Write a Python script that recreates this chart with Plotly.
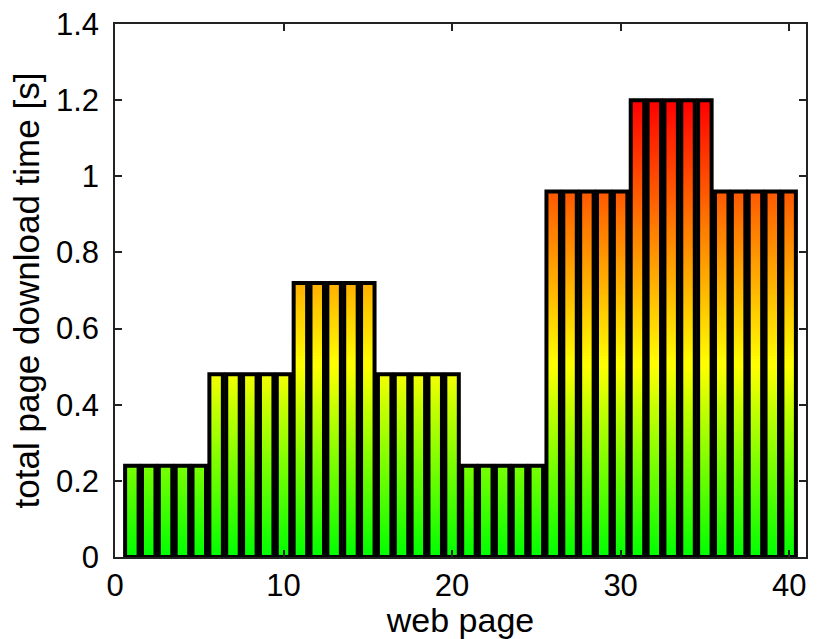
import plotly.graph_objects as go
import numpy as np

# ---- data ----
pages = list(range(1, 41))
download_time = [0.24]*5 + [0.48]*5 + [0.72]*5 + [0.48]*5 + [0.24]*5 + [0.96]*5 + [1.2]*5 + [0.96]*5
x_ticks = [0, 10, 20, 30, 40]
y_ticks = [0, 0.2, 0.4, 0.6, 0.8, 1.0, 1.2, 1.4]

CMAX = 1.2
YELLOW_AT = 0.42
STEP = 0.008

def cmap(v):
    t = max(0.0, min(1.0, v / CMAX))
    if t <= YELLOW_AT:
        r, g = int(round(255 * t / YELLOW_AT)), 255
    else:
        r, g = 255, int(round(255 * (1 - (t - YELLOW_AT) / (1 - YELLOW_AT))))
    return f"rgb({r},{g},0)"

# gradient layers: full bars from 0 to each level, drawn tallest first so
# shorter (greener) layers paint over the lower parts -> vertical gradient
gx, gy, gc = [], [], []
for p, v in zip(pages, download_time):
    levels = [v]
    h = v - STEP
    while h > 1e-9:
        levels.append(h)
        h -= STEP
    for lv in levels:
        gx.append(p)
        gy.append(lv)
        gc.append(cmap(lv - STEP / 2))

order = np.argsort(-np.array(gy), kind="stable")
gx = [gx[i] for i in order]
gy = [gy[i] for i in order]
gc = [gc[i] for i in order]

fig = go.Figure()
fig.add_trace(go.Bar(x=gx, y=gy, width=0.8, marker=dict(color=gc, line=dict(width=0)),
                     hoverinfo="skip", showlegend=False))
fig.add_trace(go.Bar(x=pages, y=download_time, width=0.8,
                     marker=dict(color="rgba(0,0,0,0)", line=dict(color="black", width=4)),
                     showlegend=False))

font_fam = "Liberation Sans, Arial, sans-serif"
fig.update_layout(
    width=818, height=639,
    margin=dict(l=115, r=12, t=24, b=82, autoexpand=False),
    paper_bgcolor="white", plot_bgcolor="white",
    barmode="overlay",
    font=dict(family=font_fam, size=31, color="black"),
    xaxis=dict(range=[0, 41], tickvals=x_ticks, ticks="inside", ticklen=7, tickwidth=1.5,
               tickcolor="#222", showline=True, linecolor="#222", linewidth=1.5, mirror="ticks",
               showgrid=False, zeroline=False, automargin=True, ticklabelstandoff=0,
               title=dict(text="web page", font=dict(size=34), standoff=2)),
    yaxis=dict(range=[0, 1.4], tickvals=y_ticks, ticks="inside", ticklen=7, tickwidth=1.5,
               tickcolor="#222", showline=True, linecolor="#222", linewidth=1.5, mirror="ticks",
               showgrid=False, zeroline=False, ticklabelstandoff=8, automargin=True,
               title=dict(text="total page download time [s]", font=dict(size=35), standoff=6)),
)

fig.write_html("out.html")
